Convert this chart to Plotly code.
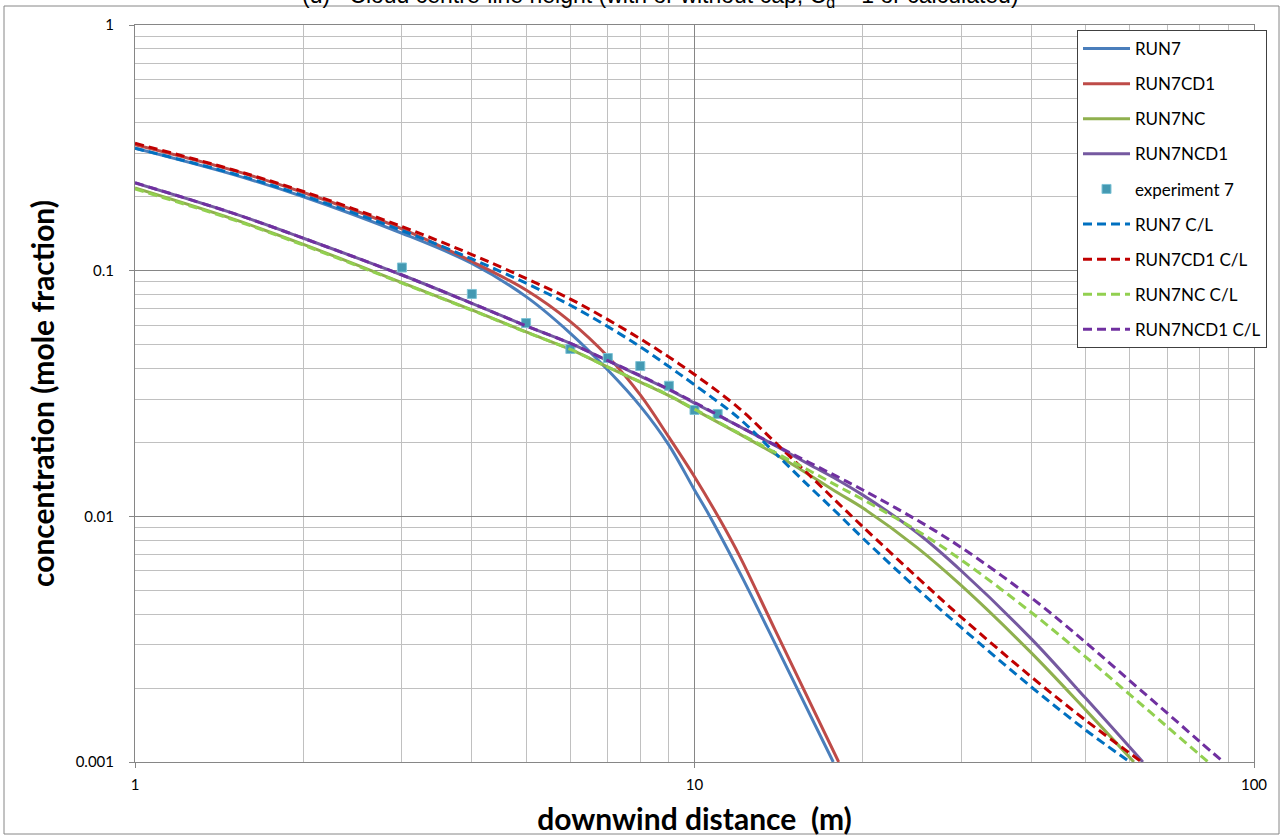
import plotly.graph_objects as go

# ---------------- data ----------------
run7_x = [1, 1.5, 2, 3, 4, 5, 6, 7, 8, 9, 10, 10.6, 12.06, 13.55, 17.7]
run7_y = [0.315, 0.246, 0.200, 0.142, 0.107, 0.0784, 0.0556, 0.0394, 0.0281, 0.0195, 0.0128, 0.0102, 0.00587, 0.00345, 0.001]

run7cd1_x = [1, 1.5, 2, 3, 4, 5, 6, 7, 8, 9, 10, 11.1, 12.06, 13.93, 18.1]
run7cd1_y = [0.326, 0.256, 0.208, 0.148, 0.109, 0.0834, 0.062, 0.0447, 0.0312, 0.0210, 0.0145, 0.0097, 0.00684, 0.00345, 0.001]

run7nc_x = [1, 1.5, 2, 3, 4, 5, 6, 7, 8, 9, 10, 12, 14, 16, 18, 20, 25, 30, 40, 50, 61]
run7nc_y = [0.217, 0.162, 0.128, 0.0894, 0.0692, 0.0563, 0.0478, 0.0405, 0.0352, 0.0310, 0.0272, 0.0217, 0.0178, 0.0148, 0.0125, 0.0108, 0.00746, 0.00522, 0.00278, 0.00163, 0.001]

run7ncd1_x = [1, 1.5, 2, 3, 4, 5, 6, 7, 8, 9, 10, 12, 14, 16, 18, 20, 25, 30, 40, 50, 63.3]
run7ncd1_y = [0.2275, 0.171, 0.1355, 0.096, 0.0736, 0.0596, 0.0506, 0.0430, 0.0372, 0.0328, 0.0289, 0.0233, 0.0193, 0.0163, 0.0141, 0.0122, 0.00857, 0.00599, 0.00317, 0.00182, 0.001]

exp7_x = [3, 4, 5, 6, 7, 8, 9, 10, 11]
exp7_y = [0.103, 0.0804, 0.0612, 0.048, 0.0441, 0.0409, 0.034, 0.0271, 0.0261]

run7cl_x = [1, 1.5, 2, 3, 4, 5, 6, 7, 8, 9, 10, 12, 14, 16, 18, 20, 25, 30, 40, 50, 60]
run7cl_y = [0.315, 0.248, 0.202, 0.1456, 0.1116, 0.0889, 0.0723, 0.0592, 0.0490, 0.0407, 0.0343, 0.0251, 0.0179, 0.0133, 0.0103, 0.00814, 0.00507, 0.00352, 0.00202, 0.00135, 0.001]

run7cd1cl_x = [1, 1.5, 2, 3, 4, 5, 6, 7, 8, 9, 10, 12, 14, 16, 18, 20, 25, 30, 40, 50, 63]
run7cd1cl_y = [0.330, 0.257, 0.210, 0.1512, 0.1163, 0.0930, 0.0766, 0.0632, 0.0528, 0.0445, 0.0378, 0.0276, 0.0198, 0.0148, 0.0114, 0.00906, 0.00565, 0.00388, 0.00222, 0.00148, 0.001]

run7nccl_x = [1, 1.5, 2, 3, 4, 5, 6, 7, 8, 9, 10, 12, 14, 16, 18, 20, 25, 30, 40, 50, 60, 70, 80, 82.8]
run7nccl_y = [0.215, 0.161, 0.127, 0.089, 0.0690, 0.0562, 0.0478, 0.0405, 0.0353, 0.0311, 0.0273, 0.0218, 0.0181, 0.0154, 0.0133, 0.0117, 0.00874, 0.00664, 0.00406, 0.00268, 0.00188, 0.00139, 0.00107, 0.001]

run7ncd1cl_x = [1, 1.5, 2, 3, 4, 5, 6, 7, 8, 9, 10, 12, 14, 16, 18, 20, 25, 30, 40, 50, 60, 70, 80, 88.2]
run7ncd1cl_y = [0.228, 0.171, 0.1355, 0.096, 0.0736, 0.0596, 0.0506, 0.0430, 0.0374, 0.0329, 0.0291, 0.0233, 0.0194, 0.0166, 0.0145, 0.0128, 0.00965, 0.00746, 0.00466, 0.00307, 0.00214, 0.00158, 0.00121, 0.001]

x_tickvals = [1, 10, 100]
x_ticktext = ["1", "10", "100"]
y_tickvals = [0.001, 0.01, 0.1, 1]
y_ticktext = ["0.001", "0.01", "0.1", "1"]
x_minor = [2, 3, 4, 5, 6, 7, 8, 9, 20, 30, 40, 50, 60, 70, 80, 90]
y_minor = [0.002, 0.003, 0.004, 0.005, 0.006, 0.007, 0.008, 0.009,
           0.02, 0.03, 0.04, 0.05, 0.06, 0.07, 0.08, 0.09,
           0.2, 0.3, 0.4, 0.5, 0.6, 0.7, 0.8, 0.9]

title_text = "(d)   Cloud centre-line height (with or without cap, C<sub>d</sub> = 1 or calculated)"

# ---------------- figure ----------------
fig = go.Figure()

lines = [
    ("RUN7", run7_x, run7_y, "#4A7EBB"),
    ("RUN7CD1", run7cd1_x, run7cd1_y, "#BE4B48"),
    ("RUN7NC", run7nc_x, run7nc_y, "#8FB04E"),
    ("RUN7NCD1", run7ncd1_x, run7ncd1_y, "#7559A0"),
]
dashed = [
    ("RUN7 C/L", run7cl_x, run7cl_y, "#0070C0"),
    ("RUN7CD1 C/L", run7cd1cl_x, run7cd1cl_y, "#C00000"),
    ("RUN7NC C/L", run7nccl_x, run7nccl_y, "#92D050"),
    ("RUN7NCD1 C/L", run7ncd1cl_x, run7ncd1cl_y, "#7030A0"),
]

for name, xs, ys, col in lines:
    fig.add_trace(go.Scatter(x=xs, y=ys, mode="lines", name=name, legendgroup=name,
                             line=dict(color=col, width=3, shape="spline", smoothing=1.0)))

fig.add_trace(go.Scatter(x=exp7_x, y=exp7_y, mode="markers", name="experiment 7",
                         legendgroup="experiment 7",
                         marker=dict(symbol="square", size=9, color="#4499B2",
                                     line=dict(color="#7EC3D6", width=1))))

for name, xs, ys, col in dashed:
    fig.add_trace(go.Scatter(x=xs, y=ys, mode="lines", name=name, legendgroup=name,
                             line=dict(color=col, width=3, dash="9px,5px", shape="spline", smoothing=1.0)))

W, H = 1282, 837
L, R, T, B = 135, 28, 25, 75
pw, ph = W - L - R, H - T - B

fig.update_layout(
    width=W, height=H,
    margin=dict(l=L, r=R, t=T, b=B, autoexpand=False),
    paper_bgcolor="white", plot_bgcolor="white",
    font=dict(family="Lato, Liberation Sans, sans-serif", color="black"),
    showlegend=True,
    legend=dict(x=(1077 - L) / pw, y=(H - B - 30) / ph, xanchor="left", yanchor="top",
                bgcolor="white", bordercolor="#404040", borderwidth=1,
                font=dict(family="Lato, sans-serif", size=17, color="black"),
                tracegroupgap=10, itemwidth=47),
    annotations=[dict(text=title_text, xref="paper", yref="paper",
                      x=(660 - L) / pw, y=(H - B + 3) / ph, xanchor="center", yanchor="middle",
                      showarrow=False,
                      font=dict(family="Liberation Sans, Arial, sans-serif", size=23, color="black"))],
    shapes=[dict(type="rect", xref="paper", yref="paper",
                 x0=(4 - L) / pw, x1=(1279 - L) / pw,
                 y0=(H - B - 834) / ph, y1=(H - B - 6) / ph,
                 line=dict(color="#868686", width=1), fillcolor="rgba(0,0,0,0)", layer="below")],
)

fig.update_xaxes(
    type="log", range=[0, 2], tickmode="array", tickvals=x_tickvals, ticktext=x_ticktext,
    showgrid=True, gridcolor="#868686", gridwidth=1,
    minor=dict(tickmode="array", tickvals=x_minor, showgrid=True, gridcolor="#C0C0C0", gridwidth=1, ticks=""),
    ticks="outside", ticklen=5, tickcolor="#868686",
    showline=True, linecolor="#868686", linewidth=1, mirror=True,
    tickfont=dict(family="Lato, sans-serif", size=15, color="black"),
    ticklabelstandoff=4,
    title=dict(text="downwind distance  (m)", standoff=16,
               font=dict(family="Lato, sans-serif", size=30, color="black", weight="bold")),
    zeroline=False, automargin=False,
)
fig.update_yaxes(
    type="log", range=[-3, 0], tickmode="array", tickvals=y_tickvals, ticktext=y_ticktext,
    showgrid=True, gridcolor="#868686", gridwidth=1,
    minor=dict(tickmode="array", tickvals=y_minor, showgrid=True, gridcolor="#C0C0C0", gridwidth=1, ticks=""),
    ticks="outside", ticklen=5, tickcolor="#868686",
    showline=True, linecolor="#868686", linewidth=1, mirror=True,
    tickfont=dict(family="Lato, sans-serif", size=15, color="black"),
    ticklabelstandoff=12,
    title=dict(text="concentration (mole fraction)", standoff=12,
               font=dict(family="Lato, sans-serif", size=30, color="black", weight="bold")),
    zeroline=False, automargin=False,
)

fig.write_html("out.html", config={"displayModeBar": False},
               post_script="document.body.style.margin='0px';document.body.style.padding='0px';")
